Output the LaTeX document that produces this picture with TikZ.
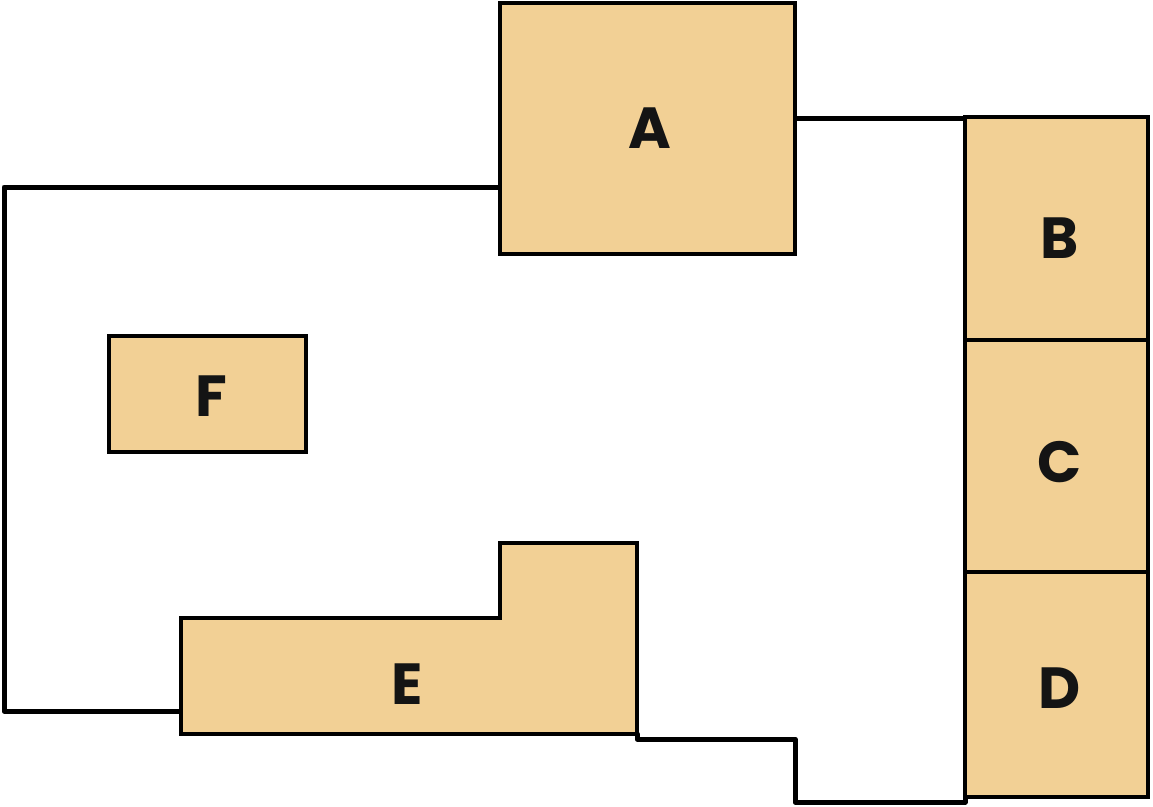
\documentclass[tikz,border=0pt]{standalone}
\usepackage{fontspec}
\setmainfont{Poppins}
\definecolor{roomfill}{HTML}{F2D095}
\definecolor{labelgray}{HTML}{141414}

\begin{document}
\begin{tikzpicture}[x=1pt,y=-1pt,
  room/.style={draw=black,fill=roomfill,line width=4.8pt,line join=miter},
  wall/.style={draw=black,line width=5pt,line join=round,line cap=round},
  roomlabel/.style={text=labelgray,font=\fontsize{58}{62}\selectfont\bfseries}]

\useasboundingbox (0,0) rectangle (1153,806);

% draw outer wall
\draw [wall] (500,187) -- (4,187) -- (4,711) -- (181,711);
\draw [wall] (795,118) -- (965,118);
\draw [wall] (637,734) -- (637,739) -- (795,739) -- (795,802) -- (965,802) -- (965,797);

% draw rooms
\draw [room] (500,3) rectangle (795,254);
\draw [room] (965,117) rectangle (1148,340);
\draw [room] (965,340) rectangle (1148,572);
\draw [room] (965,572) rectangle (1148,797);
\draw [room] (109,336) rectangle (306,452);
\draw [room] (181,618) -- (500,618) -- (500,543) -- (637,543) -- (637,734) -- (181,734) -- cycle;

% label rooms
\node [roomlabel] (labA) at (650,128) {A};
\node [roomlabel] (labB) at (1060,238) {B};
\node [roomlabel] (labC) at (1060,462) {C};
\node [roomlabel] (labD) at (1060,688) {D};
\node [roomlabel] (labE) at (407,684) {E};
\node [roomlabel] (labF) at (211,396) {F};

\end{tikzpicture}
\end{document}
